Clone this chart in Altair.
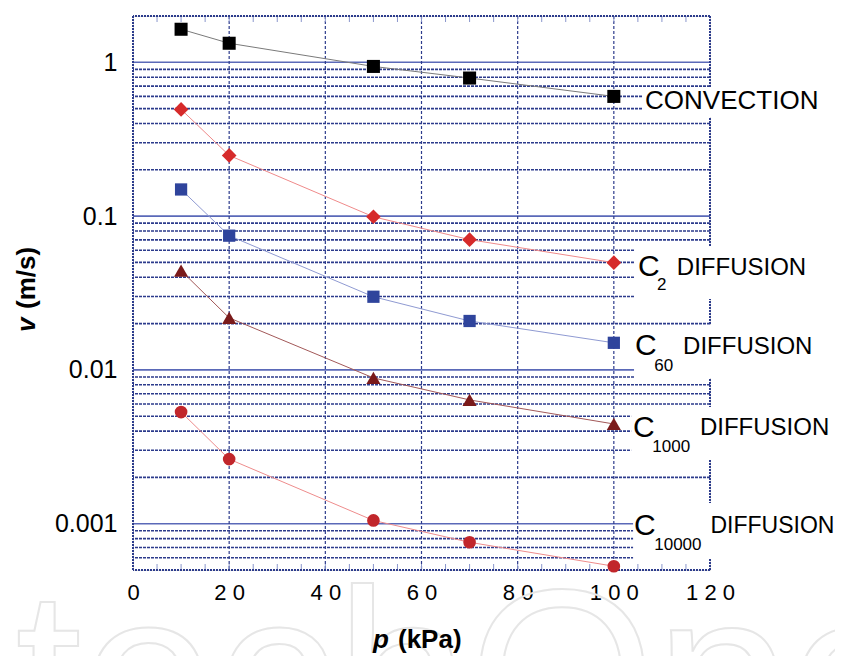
import altair as alt
import pandas as pd

# ---------------- data ----------------
pressure = [10, 20, 50, 70, 100]
convection = [1.64, 1.33, 0.94, 0.79, 0.60]
c2 = [0.494, 0.248, 0.099, 0.0703, 0.0498]
c60 = [0.149, 0.0746, 0.0299, 0.0208, 0.0150]
c1000 = [0.0442, 0.0218, 0.00887, 0.00638, 0.00445]
c10000 = [0.00532, 0.00263, 0.00105, 0.000757, 0.000529]

series_names = ["CONVECTION", "C2", "C60", "C1000", "C10000"]
series_values = [convection, c2, c60, c1000, c10000]
marker_colors = ["#000000", "#d62a2a", "#2f449c", "#7a1a1a", "#c1262b"]
line_colors = ["#7a7a7a", "#ef8a8a", "#8f9ad2", "#a25858", "#ee8c8c"]
marker_shapes = ["square", "diamond", "square", "triangle-up", "circle"]
marker_sizes = [170, 215, 150, 200, 160]

x_tick_values = [0, 20, 40, 60, 80, 100, 120]
y_tick_values = [0.001, 0.01, 0.1, 1]
x_minor_ticks = [5 * i for i in range(1, 24)]
x_grid_values = [20, 40, 60, 80, 100]
decades = [0.0001, 0.001, 0.01, 0.1, 1]
x_frame = [0, 120]
y_frame = [0.0005, 2]

# series labels (text, p position, v baseline, font size)
label_texts = ["CONVECTION",
               "C", "2", "DIFFUSION",
               "C", "60", "DIFFUSION",
               "C", "1000", "DIFFUSION",
               "C", "10000", "DIFFUSION"]
label_p = [106.5,
           105.0, 109.0, 113.1,
           104.4, 108.4, 114.4,
           104.0, 108.0, 117.9,
           104.2, 108.4, 120.1]
label_v = [0.497,
           0.0408, 0.0331, 0.0414,
           0.0125, 0.00984, 0.01269,
           0.00366, 0.002925, 0.003773,
           0.000844, 0.000675, 0.00087]
label_sizes = [26,
               30, 17, 24,
               30, 17, 24,
               30, 17, 24,
               30, 17, 23]

# white boxes behind the labels (p from, p to, v top, v bottom)
mask_p1 = [105.9, 104.4, 104.2, 103.6, 104.0]
mask_p2 = [123, 123, 123, 123, 123]
mask_v1 = [0.691, 0.0639, 0.0196, 0.00574, 0.001363]
mask_v2 = [0.441, 0.0289, 0.00886, 0.002595, 0.00059]

x_title_parts = ["p", "(kPa)"]
y_title_parts = ["v", "(m/s)"]
watermark = ["IntechOpen"]

# ---------------- chart ----------------
W, H = 577, 554
FONT = "Liberation Sans"
GRID = "#2c3b8c"

xscale = alt.Scale(domain=[0, 120], nice=False, zero=False)
yscale = alt.Scale(type="log", domain=[0.0005, 2], nice=False)

xaxis = alt.Axis(values=x_tick_values, grid=False, domain=False, ticks=False, tickSize=0,
                 labelFont=FONT, labelFontSize=22, labelColor="#000000", labelPadding=12,
                 labelFlush=False, labelOverlap=False,
                 labelExpr="join(split(datum.label, ''), '\u00a0')", title=None)
yaxis = alt.Axis(values=y_tick_values, grid=False, domain=False, ticks=False, tickSize=0,
                 labelFont=FONT, labelFontSize=25, labelColor="#000000", labelPadding=16,
                 format="~g", labelOverlap=False, title=None)

X = alt.X("p:Q", scale=xscale, axis=xaxis)
Y = alt.Y("v:Q", scale=yscale, axis=yaxis)

minor_vals = [k * d for d in decades for k in range(2, 10) if 0.0005 < k * d < 2]
decade_vals = [d for d in decades if 0.0005 < d < 2]

wm = alt.Chart(pd.DataFrame({"t": watermark})).mark_text(
    align="left", baseline="alphabetic", font=FONT, fontSize=240, fill="#ffffff",
    fillOpacity=0, stroke="#e6e6e6", strokeWidth=2).encode(
    text="t:N", x=alt.value(-318), y=alt.value(741))

minor_rules = alt.Chart(pd.DataFrame({"v": minor_vals})).mark_rule(
    color=GRID, strokeWidth=1.6, strokeDash=[3, 1]).encode(y=Y)
decade_rules = alt.Chart(pd.DataFrame({"v": decade_vals})).mark_rule(
    color="#5a69b8", strokeWidth=1.6).encode(y=Y)
vert_rules = alt.Chart(pd.DataFrame({"p": x_grid_values})).mark_rule(
    color=GRID, strokeWidth=1.2, strokeDash=[3, 2]).encode(x=X)
bottom_ticks = alt.Chart(pd.DataFrame({"p": x_minor_ticks})).mark_rule(
    color="#8a96cc", strokeWidth=1).encode(x=X, y=alt.value(H), y2=alt.value(H - 6))
top_ticks = alt.Chart(pd.DataFrame({"p": x_minor_ticks})).mark_rule(
    color="#8a96cc", strokeWidth=1).encode(x=X, y=alt.value(0), y2=alt.value(6))
frame_v = alt.Chart(pd.DataFrame({"p": x_frame})).mark_rule(
    color=GRID, strokeWidth=2, strokeDash=[2, 1]).encode(x=X)
frame_h = alt.Chart(pd.DataFrame({"v": y_frame})).mark_rule(
    color=GRID, strokeWidth=2, strokeDash=[2, 1]).encode(y=Y)

masks = alt.Chart(pd.DataFrame({"p": mask_p1, "p2": mask_p2, "v": mask_v1, "v2": mask_v2})).mark_rect(
    color="#ffffff").encode(x=X, x2="p2:Q", y=Y, y2="v2:Q")

layers = [wm, minor_rules, decade_rules, vert_rules, bottom_ticks, top_ticks,
          frame_v, frame_h, masks]

for name, vals, mc, lc, shp, sz in zip(series_names, series_values, marker_colors,
                                      line_colors, marker_shapes, marker_sizes):
    df = pd.DataFrame({"p": pressure, "v": vals, "series": name})
    layers.append(alt.Chart(df).mark_line(color=lc, strokeWidth=1).encode(x=X, y=Y))
    layers.append(alt.Chart(df).mark_point(shape=shp, size=sz, filled=True, color=mc,
                                           opacity=1).encode(x=X, y=Y))

lab_df = pd.DataFrame({"p": label_p, "v": label_v, "t": label_texts, "fs": label_sizes})
labels = alt.Chart(lab_df).mark_text(align="left", baseline="alphabetic", font=FONT,
                                     color="#000000").encode(
    x=X, y=Y, text="t:N", size=alt.Size("fs:Q", scale=None, legend=None))
layers.append(labels)

xt1 = alt.Chart(pd.DataFrame({"t": [x_title_parts[0]]})).mark_text(
    align="left", baseline="alphabetic", font=FONT, fontSize=26, fontWeight="bold",
    fontStyle="italic", color="#000000").encode(text="t:N", x=alt.value(240), y=alt.value(632))
xt2 = alt.Chart(pd.DataFrame({"t": [x_title_parts[1]]})).mark_text(
    align="left", baseline="alphabetic", font=FONT, fontSize=26, fontWeight="bold",
    color="#000000").encode(text="t:N", x=alt.value(265), y=alt.value(632))
yt1 = alt.Chart(pd.DataFrame({"t": [y_title_parts[0]]})).mark_text(
    align="left", baseline="alphabetic", font=FONT, fontSize=26, fontWeight="bold",
    fontStyle="italic", angle=270, color="#000000").encode(text="t:N", x=alt.value(-98), y=alt.value(316))
yt2 = alt.Chart(pd.DataFrame({"t": [y_title_parts[1]]})).mark_text(
    align="left", baseline="alphabetic", font=FONT, fontSize=26, fontWeight="bold",
    angle=270, color="#000000").encode(text="t:N", x=alt.value(-98), y=alt.value(293))
layers += [xt1, xt2, yt1, yt2]

chart = alt.layer(*layers).properties(
    width=W, height=H,
    padding={"left": 125, "top": 8, "right": 125, "bottom": 86},
    autosize=alt.AutoSizeParams(type="none"),
).configure_view(
    stroke=None
).configure(background="#ffffff")

chart.save("out.html", embed_options={"renderer": "svg", "actions": False})
